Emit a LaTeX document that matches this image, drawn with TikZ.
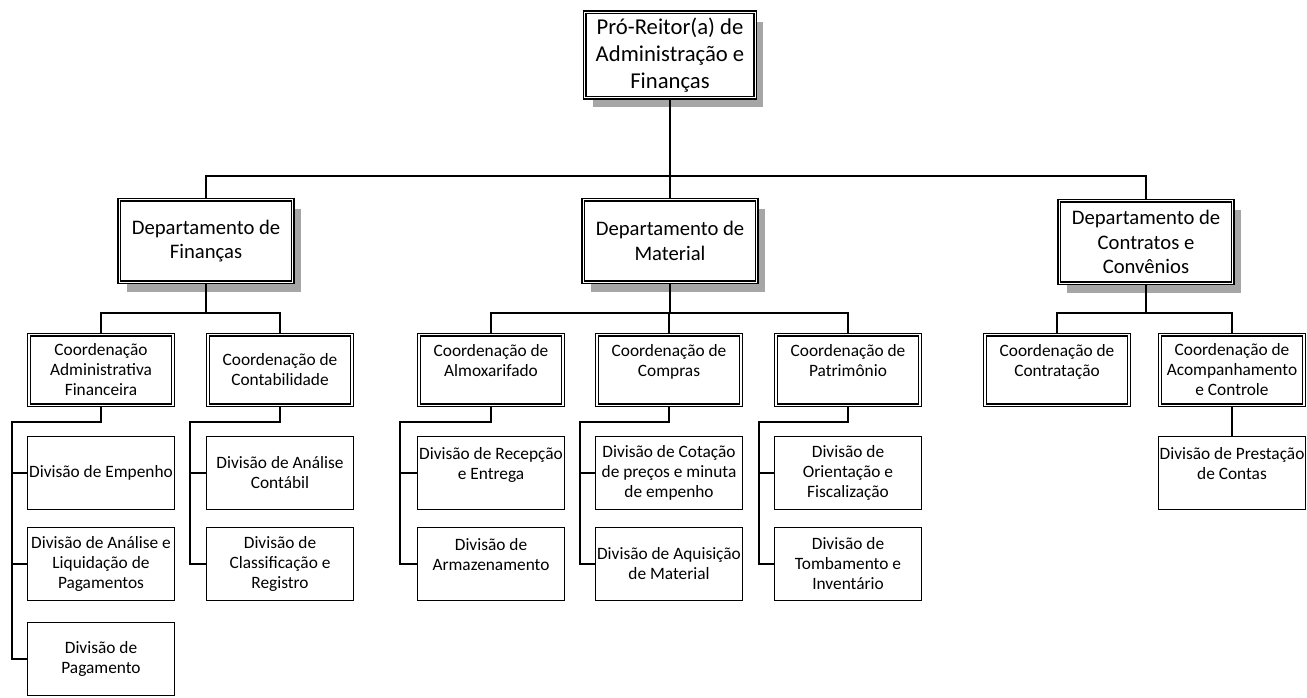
\documentclass[tikz,border=0pt]{standalone}
\usepackage{fontspec}
\setmainfont{Carlito}
\usetikzlibrary{shadows}

\begin{document}
\begin{tikzpicture}[x=0.75pt, y=-0.75pt, line width=1.1pt,
    boxline/.style={draw, fill=white, double, double distance=1.2pt, line width=0.9pt},
    topbox/.style={boxline, rectangle, align=center, minimum width=128pt, minimum height=64pt, inner sep=2pt,
        font=\fontsize{17}{20.5}\selectfont,
        drop shadow={shadow xshift=6pt, shadow yshift=-7pt, fill=black!35, opacity=1}},
    deptbox/.style={topbox, minimum width=130pt, minimum height=62pt, font=\fontsize{15.5}{18.5}\selectfont},
    coordbox/.style={boxline, rectangle, align=center, minimum width=108pt, minimum height=53pt, inner xsep=1pt,
        font=\fontsize{13}{15}\selectfont},
    divbox/.style={draw, line width=1pt, rectangle, align=center, minimum width=110pt, minimum height=55pt,
        inner xsep=0.5pt, font=\fontsize{13}{15}\selectfont}]
    \fill[white] (0,0) rectangle (1307,697);
    \useasboundingbox (0,0) rectangle (1307,697);

    \node[topbox] (Pro) at (670,55) {Pró-Reitor(a) de\\Administração e\\Finanças};
    \node[deptbox] (DepFin) at (206,241) {Departamento de\\Finanças};
    \node[deptbox] (DepMat) at (670,241) {Departamento de\\Material};
    \node[deptbox] (DepCon) at (1146,242) {Departamento de\\Contratos e\\Convênios};

    \node[coordbox] (CoordAF) at (101,370) {Coordenação\\Administrativa\\Financeira};
    \node[coordbox] (CoordCont) at (280,370) {Coordenação de\\Contabilidade};
    \node[coordbox] (CoordAlm) at (491,370) {Coordenação de\\Almoxarifado\\\mbox{}};
    \node[coordbox] (CoordComp) at (669,370) {Coordenação de\\Compras\\\mbox{}};
    \node[coordbox] (CoordPat) at (848,370) {Coordenação de\\Patrimônio\\\mbox{}};
    \node[coordbox] (CoordContr) at (1057,370) {Coordenação de\\Contratação\\\mbox{}};
    \node[coordbox] (CoordAcomp) at (1232,370) {Coordenação de\\Acompanhamento\\e Controle};

    \node[divbox] (DivEmp) at (101,473) {Divisão de Empenho};
    \node[divbox] (DivLiq) at (101,564) {Divisão de Análise e\\Liquidação de\\Pagamentos};
    \node[divbox] (DivPag) at (101,659) {Divisão de\\Pagamento};
    \node[divbox] (DivAC) at (280,473) {Divisão de Análise\\Contábil};
    \node[divbox] (DivCR) at (280,564) {Divisão de\\Classificação e\\Registro};
    \node[divbox] (DivRE) at (491,473) {Divisão de Recepção\\e Entrega\\\mbox{}};
    \node[divbox] (DivArm) at (491,564) {Divisão de\\Armazenamento\\\mbox{}};
    \node[divbox] (DivCot) at (669,473) {Divisão de Cotação\\de preços e minuta\\de empenho};
    \node[divbox] (DivAq) at (669,564) {Divisão de Aquisição\\de Material};
    \node[divbox] (DivOF) at (848,473) {Divisão de\\Orientação e\\Fiscalização};
    \node[divbox] (DivTI) at (848,564) {Divisão de\\Tombamento e\\Inventário};
    \node[divbox] (DivPC) at (1232,473) {Divisão de Prestação\\de Contas\\\mbox{}};

    % pro-reitoria -> departamentos
    \coordinate (bus) at (670,176);
    \draw (Pro.south) -- (bus);
    \draw (bus) -| (DepFin.north);
    \draw (bus) -- (DepMat.north);
    \draw (bus) -| (DepCon.north);

    % departamentos -> coordenacoes
    \draw (DepFin.south) -- ++(0,30) -| (CoordAF.north);
    \draw (DepFin.south) -- ++(0,30) -| (CoordCont.north);
    \draw (DepMat.south) -- ++(0,30) -| (CoordAlm.north);
    \draw (DepMat.south) -- ++(0,30) -| (CoordComp.north);
    \draw (DepMat.south) -- ++(0,30) -| (CoordPat.north);
    \draw (DepCon.south) -- ++(0,29) -| (CoordContr.north);
    \draw (DepCon.south) -- ++(0,29) -| (CoordAcomp.north);

    % coordenacoes -> divisoes
    \draw (CoordAF.south) -- ++(0,16) -- ++(-89,0) |- (DivEmp.west);
    \draw (CoordAF.south) -- ++(0,16) -- ++(-89,0) |- (DivLiq.west);
    \draw (CoordAF.south) -- ++(0,16) -- ++(-89,0) |- (DivPag.west);
    \draw (CoordCont.south) -- ++(0,16) -- ++(-90,0) |- (DivAC.west);
    \draw (CoordCont.south) -- ++(0,16) -- ++(-90,0) |- (DivCR.west);
    \draw (CoordAlm.south) -- ++(0,16) -- ++(-91,0) |- (DivRE.west);
    \draw (CoordAlm.south) -- ++(0,16) -- ++(-91,0) |- (DivArm.west);
    \draw (CoordComp.south) -- ++(0,16) -- ++(-89,0) |- (DivCot.west);
    \draw (CoordComp.south) -- ++(0,16) -- ++(-89,0) |- (DivAq.west);
    \draw (CoordPat.south) -- ++(0,16) -- ++(-89,0) |- (DivOF.west);
    \draw (CoordPat.south) -- ++(0,16) -- ++(-89,0) |- (DivTI.west);
    \draw (CoordAcomp.south) -- (DivPC.north);
\end{tikzpicture}
\end{document}
